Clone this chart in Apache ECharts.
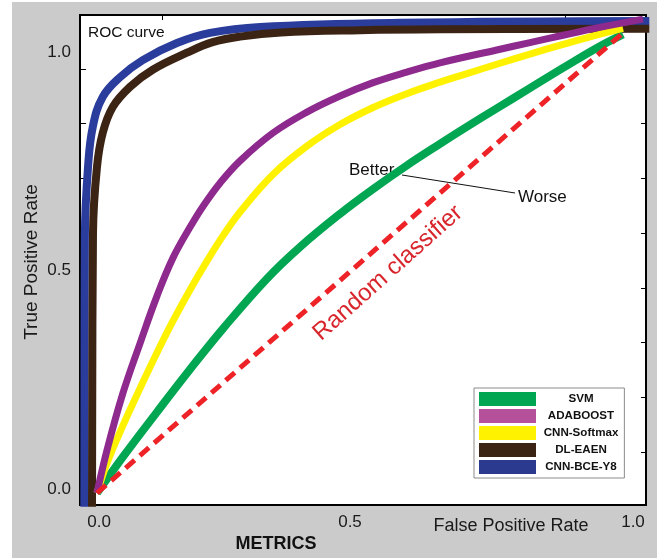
<!DOCTYPE html>
<html>
<head>
<meta charset="utf-8">
<script src="https://cdn.jsdelivr.net/npm/echarts@6/dist/echarts.min.js"></script>
<style>
html,body{margin:0;padding:0;background:#fff;}
#bg{position:absolute;left:12px;top:2px;width:645px;height:556px;background:#cbcbcb;}
#roc{position:absolute;left:0;top:0;width:657px;height:558px;}
</style>
</head>
<body>
<div id="bg"></div>
<div id="roc"></div>
<script>
// points: [false positive rate, true positive rate]
let svm = [[0,0],[0.049,0.078],[0.114,0.176],[0.177,0.269],[0.240,0.358],[0.323,0.466],[0.386,0.535],
    [0.462,0.607],[0.525,0.661],[0.589,0.712],[0.652,0.759],[0.696,0.791],[0.760,0.836],[0.823,0.880],
    [0.886,0.924],[0.951,0.968],[1.0,0.997]];
let adaboost = [[0,0],[0.019,0.093],[0.049,0.216],[0.082,0.326],[0.114,0.428],[0.144,0.510],[0.177,0.578],
    [0.202,0.624],[0.234,0.674],[0.272,0.722],[0.335,0.783],[0.399,0.828],[0.462,0.863],[0.525,0.892],
    [0.589,0.915],[0.652,0.935],[0.760,0.963],[0.823,0.979],[0.886,0.995],[0.951,1.011],[1.038,1.030]];
let cnnSoftmax = [[0,0],[0.019,0.065],[0.049,0.146],[0.082,0.228],[0.114,0.305],[0.144,0.373],[0.177,0.442],
    [0.209,0.504],[0.240,0.560],[0.272,0.611],[0.335,0.693],[0.399,0.754],[0.462,0.801],[0.525,0.838],
    [0.589,0.868],[0.652,0.893],[0.696,0.909],[0.760,0.932],[0.823,0.954],[0.886,0.975],[0.951,0.996],[1.0,1.010]];
let dlEaen = [[-0.0095,-0.03],[-0.0076,0.565],[0,0.709],[0.011,0.783],[0.030,0.839],[0.063,0.883],[0.106,0.920],
    [0.171,0.957],[0.220,0.980],[0.272,0.992],[0.350,1.001],[0.500,1.006],[0.652,1.008],[1.05,1.009]];
let cnnBce = [[-0.024,-0.03],[-0.023,0.560],[-0.017,0.709],[-0.008,0.796],[0.011,0.861],[0.044,0.904],[0.087,0.941],
    [0.152,0.978],[0.215,1.000],[0.310,1.013],[0.576,1.022],[1.05,1.026]];
let randomLine = [[0,0],[1,1]];

let legendNames = ['SVM','ADABOOST','CNN-Softmax','DL-EAEN','CNN-BCE-Y8'];
let legendColors = ['#00a651','#b5509a','#fff200','#3c2415','#2b3a8f'];
let lineColors = {'SVM':'#00a651','ADABOOST':'#8e2a8e','CNN-Softmax':'#fff200','DL-EAEN':'#3c2415','CNN-BCE-Y8':'#2b3d9c'};

// where the printed labels and tick marks sit
let xLabelAt = [0.004, 0.481, 1.019];
let yLabelAt = [0.009, 0.485, 0.957];
let xTickAt = [0.124, 0.890];
let yTickAt = [0.0893, 0.2083, 0.3272, 0.4461, 0.565, 0.6839, 0.8028, 0.9217];

let font = 'Liberation Sans, Arial, sans-serif';
let myChart = echarts.init(document.getElementById('roc'));

let halfStep = function (v) {
    return (Math.round(v * 2) / 2).toFixed(1);
};

let lineSeries = function (name, data, width) {
    return {
        name: name,
        type: 'line',
        data: data,
        showSymbol: false,
        symbol: 'none',
        smooth: 0.4,
        silent: true,
        lineStyle: {color: lineColors[name], width: width, cap: 'butt', join: 'round'},
        itemStyle: {color: lineColors[name]}
    };
};

let xMin = -0.0323, xMax = 1.0437, yMin = -0.026, yMax = 1.039;
let tickStyle = {color: '#000', width: 1};

let option = {
    animation: false,
    backgroundColor: 'transparent',
    grid: {
        left: 80, right: 11, top: 15, bottom: 53,
        show: true,
        backgroundColor: '#fff',
        borderColor: '#000',
        borderWidth: 2
    },
    legend: {
        data: legendNames.map(function (n, i) {
            return {name: n, itemStyle: {color: legendColors[i], borderWidth: 0}};
        }),
        orient: 'vertical',
        left: 474,
        top: 388,
        padding: [4, 6, 4, 5],
        itemWidth: 57,
        itemHeight: 14,
        itemGap: 3,
        icon: 'rect',
        selectedMode: false,
        backgroundColor: '#fff',
        borderColor: '#8a8a8a',
        borderWidth: 1,
        itemStyle: {borderWidth: 0},
        formatter: function (n) { return '{c|' + n + '}'; },
        textStyle: {
            rich: {
                c: {width: 80, align: 'center', fontWeight: 'bold', fontSize: 11.6, fontFamily: font, color: '#111'}
            }
        }
    },
    xAxis: [{
        type: 'value', min: xMin, max: xMax, position: 'bottom',
        axisLine: {show: false, onZero: false}, splitLine: {show: false},
        axisTick: {show: false},
        axisLabel: {customValues: xLabelAt, formatter: halfStep, margin: 9,
            fontSize: 17, fontFamily: font, color: '#1a1a1a'}
    }, {
        type: 'value', min: xMin, max: xMax, position: 'top',
        axisLine: {show: false, onZero: false}, splitLine: {show: false},
        axisLabel: {show: false},
        axisTick: {customValues: xTickAt, inside: true, length: 5, lineStyle: tickStyle}
    }],
    yAxis: [{
        type: 'value', min: yMin, max: yMax, position: 'left',
        axisLine: {show: false, onZero: false}, splitLine: {show: false},
        axisTick: {customValues: yTickAt, inside: true, length: 6, lineStyle: tickStyle},
        axisLabel: {customValues: yLabelAt, formatter: halfStep, margin: 9,
            fontSize: 17, fontFamily: font, color: '#1a1a1a'}
    }, {
        type: 'value', min: yMin, max: yMax, position: 'right',
        axisLine: {show: false, onZero: false}, splitLine: {show: false},
        axisLabel: {show: false},
        axisTick: {customValues: yTickAt, inside: true, length: 5, lineStyle: tickStyle}
    }],
    series: [
        lineSeries('CNN-BCE-Y8', cnnBce, 8),
        lineSeries('DL-EAEN', dlEaen, 8),
        lineSeries('SVM', svm, 8),
        lineSeries('CNN-Softmax', cnnSoftmax, 7),
        lineSeries('ADABOOST', adaboost, 7),
        {
            name: 'Random classifier',
            type: 'line',
            data: randomLine,
            symbol: 'none',
            silent: true,
            lineStyle: {color: '#ee2328', width: 5, type: [12, 7], cap: 'butt'}
        }
    ],
    graphic: [
        {type: 'text', left: 88, top: 25, style: {text: 'ROC curve', fontSize: 15.5, fontFamily: font, fill: '#111'}},
        {type: 'text', x: 349, y: 170, style: {text: 'Better', fontSize: 17, fontFamily: font, fill: '#111', verticalAlign: 'middle'}},
        {type: 'text', x: 518, y: 197, style: {text: 'Worse', fontSize: 17, fontFamily: font, fill: '#111', verticalAlign: 'middle'}},
        {type: 'line', shape: {x1: 402, y1: 175, x2: 515, y2: 193}, style: {stroke: '#111', lineWidth: 1}},
        {type: 'text', x: 388, y: 273, rotation: 0.726,
            style: {text: 'Random classifier', fontSize: 24, fontFamily: font, fill: '#d8262c', align: 'center', verticalAlign: 'middle'}},
        {type: 'text', x: 32, y: 262, rotation: Math.PI / 2,
            style: {text: 'True Positive Rate', fontSize: 19, fontFamily: font, fill: '#1a1a1a', align: 'center', verticalAlign: 'middle'}},
        {type: 'text', x: 511, y: 526,
            style: {text: 'False Positive Rate', fontSize: 18, fontFamily: font, fill: '#1a1a1a', align: 'center', verticalAlign: 'middle'}},
        {type: 'text', x: 276, y: 544,
            style: {text: 'METRICS', fontSize: 18, fontWeight: 'bold', fontFamily: font, fill: '#111', align: 'center', verticalAlign: 'middle'}}
    ]
};
myChart.setOption(option);
</script>
</body>
</html>
